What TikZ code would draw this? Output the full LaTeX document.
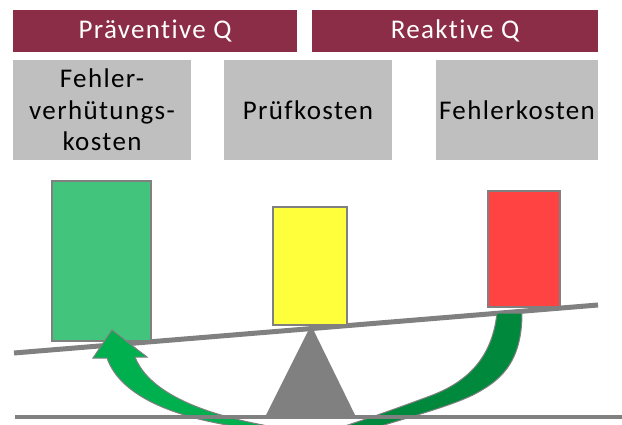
\documentclass[tikz,border=0pt]{standalone}
\usepackage{fontspec}
\setmainfont[LetterSpace=5, Ligatures=NoCommon, RawFeature=-liga]{Carlito}
\definecolor{hdrred}{HTML}{8C2D47}
\definecolor{boxgray}{HTML}{BFBFBF}
\definecolor{linegray}{HTML}{808080}
\definecolor{cgreen}{HTML}{43C47C}
\definecolor{cyellow}{HTML}{FFFF3C}
\definecolor{cred}{HTML}{FF4242}
\definecolor{arrowlight}{HTML}{00B04F}
\definecolor{arrowdark}{HTML}{00893C}
\begin{document}
\begin{tikzpicture}[x=1pt,y=-1pt,
  hdr/.style={fill=hdrred, text=white, inner sep=0pt, font=\fontsize{27}{31.5}\selectfont, minimum height=42pt},
  costbox/.style={fill=boxgray, text=black, inner sep=0pt, align=center, font=\fontsize{27}{31.5}\selectfont, minimum height=100pt},
  weight/.style={draw=linegray, line width=1.5pt},
  arrowpart/.style={draw=linegray, line width=1pt, line join=miter}]
\useasboundingbox (0,0) rectangle (622,425);
\clip (0,0) rectangle (622,425);
% headers
\node[hdr, minimum width=284pt] (prae) at (155,31) {Präventive Q};
\node[hdr, minimum width=286pt] (reak) at (455,31) {Reaktive Q};
% cost boxes
\node[costbox, minimum width=178pt] (fvk) at (102,110) {Fehler-\\verhütungs-\\kosten};
\node[costbox, minimum width=168pt] (pk) at (308,110) {Prüfkosten};
\node[costbox, minimum width=162pt] (fk) at (517,110) {Fehlerkosten};
% beam
\coordinate (beamL) at (14,353);
\coordinate (beamR) at (598,305);
\draw[linegray, line width=5pt] (beamL) -- (beamR);
% fulcrum
\fill[linegray] (311,325) -- (356,417) -- (265,417) -- cycle;
% weights
\draw[weight, fill=cgreen] (52,181) rectangle (151,341);
\draw[weight, fill=cyellow] (273,207) rectangle (347,325);
\draw[weight, fill=cred] (488,191) rectangle (560,307);
% curved arrow: right (dark) part
\draw[arrowpart, fill=arrowdark] (497,313) .. controls (492,360) and (465,383) .. (430,396)
  .. controls (395,409) and (345,427) .. (300,440)
  -- (300,452) .. controls (380,424) and (440,411) .. (473,395)
  .. controls (498,382) and (522,365) .. (522,313) -- cycle;
% curved arrow: left (light) part with head
\draw[arrowpart, fill=arrowlight] (300,440) .. controls (290,434) and (280,429) .. (263,425)
  .. controls (195,412) and (148,390) .. (135,357)
  -- (147,357) -- (112,330) -- (93,358) -- (107,358)
  .. controls (120,395) and (170,415) .. (227,425)
  .. controls (255,430) and (280,447) .. (300,452) -- cycle;
% ground
\coordinate (gL) at (15,417);
\coordinate (gR) at (622,417);
\draw[linegray, line width=4pt] (gL) -- (gR);
\end{tikzpicture}
\end{document}
